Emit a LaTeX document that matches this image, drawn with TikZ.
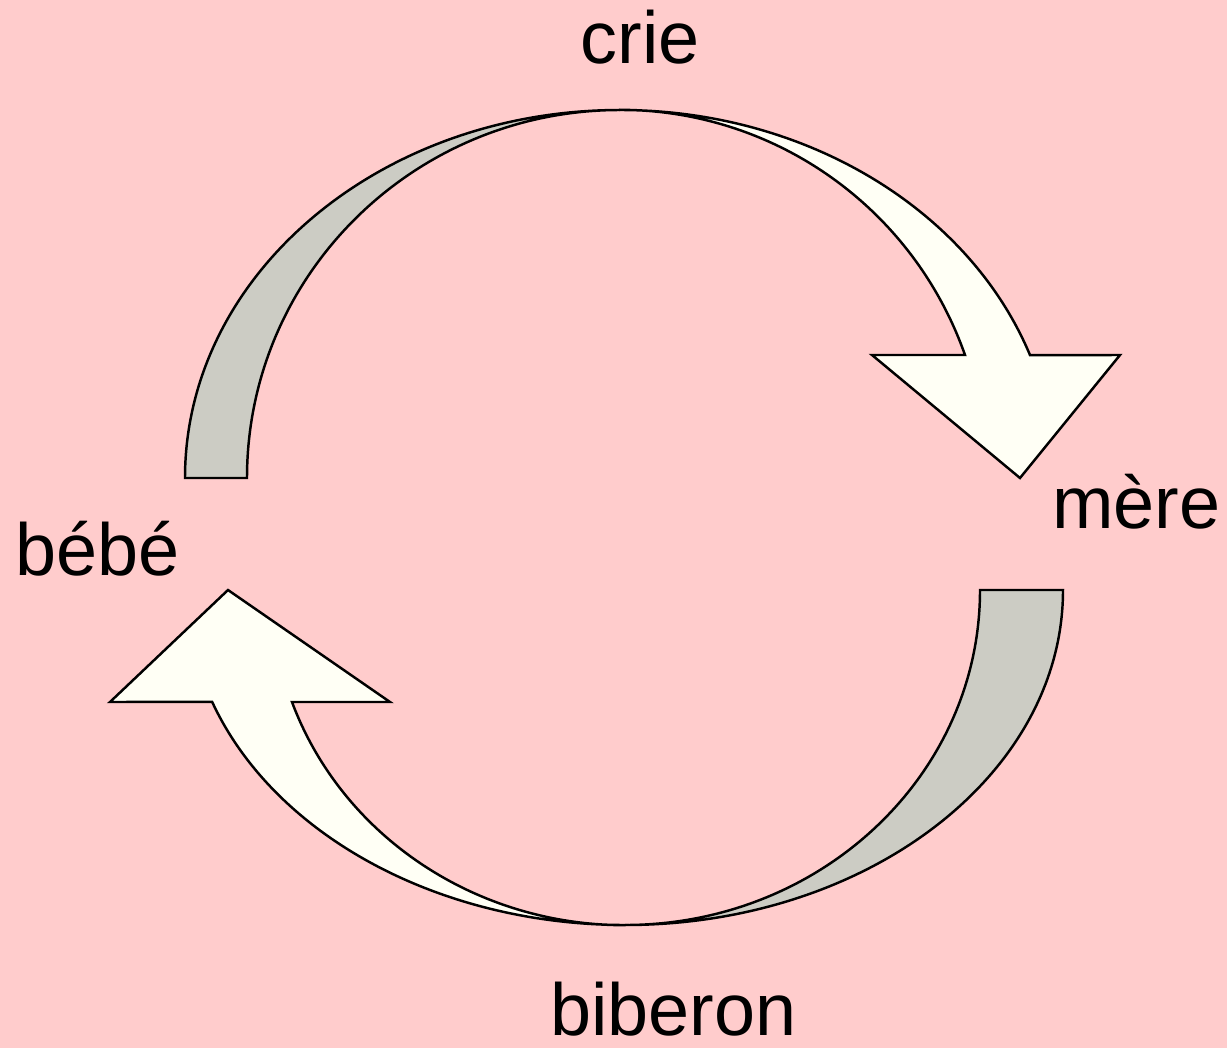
\documentclass[tikz,border=0pt]{standalone}
\usepackage{fontspec}
\setmainfont{Liberation Sans}
\usetikzlibrary{positioning}
\definecolor{fondrose}{RGB}{255,204,204}
\definecolor{grisfleche}{RGB}{204,204,196}
\definecolor{blancfleche}{RGB}{255,255,245}
\tikzset{
  fond/.style={fill=fondrose,draw=none},
  fgris/.style={draw=black,line width=1.4pt,fill=grisfleche,line join=miter},
  fblanc/.style={draw=black,line width=1.4pt,fill=blancfleche,line join=miter},
  mot/.style={inner sep=0pt,font=\fontsize{42}{50}\selectfont},
}
\begin{document}
\begin{tikzpicture}[x=0.02cm,y=0.02cm]
  \path[fond,use as bounding box] (0,0) rectangle (1227,-1048);
  % fleche du haut
  \draw[fgris] (185,-478) arc[start angle=180,end angle=90,x radius=435,y radius=368]
    arc[start angle=90,end angle=180,x radius=373,y radius=368] -- cycle;
  \draw[fblanc] (620,-110) arc[start angle=90,end angle=19.5,x radius=435,y radius=368]
    -- (1120,-355) -- (1020,-478) -- (872,-355) -- (965,-355)
    arc[start angle=19.5,end angle=90,x radius=366,y radius=368] -- cycle;
  % fleche du bas
  \draw[fgris] (1063,-590) arc[start angle=0,end angle=-90,x radius=438,y radius=335]
    arc[start angle=-90,end angle=0,x radius=355,y radius=335] -- cycle;
  \draw[fblanc] (625,-925) arc[start angle=270,end angle=199.5,x radius=438,y radius=335]
    -- (110,-702) -- (228,-590) -- (390,-702) -- (292,-702)
    arc[start angle=199.5,end angle=270,x radius=353,y radius=335] -- cycle;
  % mots
  \node[mot,anchor=base] (crie) at (640,-63) {crie};
  \node[mot,anchor=base west] (mere) at (1052,-528) {mère};
  \node[mot,anchor=base west] (bebe) at (15,-575) {bébé};
  \node[mot,anchor=base west] (biberon) at (550,-1035) {biberon};
\end{tikzpicture}
\end{document}
